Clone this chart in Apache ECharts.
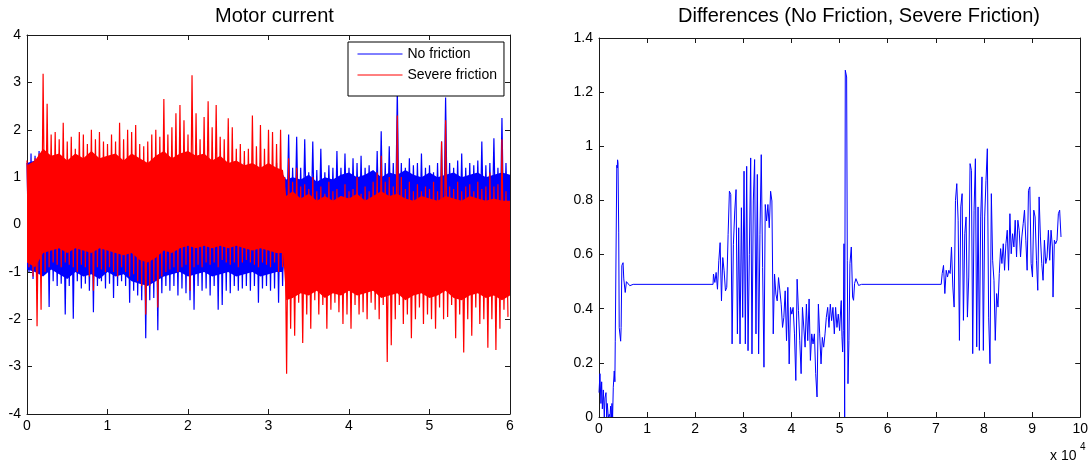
<!DOCTYPE html>
<html>
<head>
<meta charset="utf-8">
<script src="https://cdn.jsdelivr.net/npm/echarts@6/dist/echarts.min.js"></script>
<style>
html,body{margin:0;padding:0;background:#fff;}
#chart{width:1091px;height:461px;}
</style>
</head>
<body>
<div id="chart"></div>
<script>
// ---------- Left chart: Motor current ----------
// spike envelopes read per 0.05 time step
const motorStep = 0.05;
const severeHi = [1.35,1.2,1.4,1.5,3.18,2.55,1.9,1.95,1.8,2.15,
  1.75,1.85,1.6,1.95,1.9,1.7,2.0,1.8,1.95,1.75,
  1.7,1.9,1.75,2.15,1.8,2.0,1.95,2.1,1.7,1.65,
  1.75,1.9,2.0,1.85,2.65,1.9,2.05,2.35,2.52,2.2,
  1.9,3.15,2.35,1.8,2.27,2.6,2.05,2.52,1.85,1.8,
  2.24,2.05,1.6,1.7,1.55,1.6,2.3,1.65,2.1,1.6,
  2.0,1.95,1.7,2.0,1.0,1.4,0.9,1.2,0.8,0.85,
  0.75,1.0,0.7,0.8,0.65,0.9,0.7,0.75,0.6,0.85,
  0.7,0.75,1.0,0.65,0.8,0.7,0.9,1.1,1.45,0.9,
  1.0,0.8,2.3,1.0,0.75,0.9,0.7,0.85,0.7,0.8,
  0.75,0.9,0.7,1.75,2.2,0.8,0.75,0.9,0.7,0.8,
  0.85,0.7,0.9,0.75,0.8,1.1,0.8,0.85,1.8,0.7];
const severeLo = [-0.9,-1.1,-2.15,-1.8,-1.0,-0.9,-0.8,-0.85,-0.9,-0.8,
  -0.85,-0.9,-1.0,-0.85,-0.9,-1.1,-1.4,-0.9,-0.95,-1.0,
  -0.9,-1.0,-1.1,-0.9,-1.0,-1.1,-1.05,-1.2,-1.3,-1.9,
  -1.3,-1.2,-1.75,-1.1,-1.0,-0.95,-0.9,-1.0,-0.9,-0.85,
  -1.4,-0.9,-0.85,-0.9,-0.8,-0.85,-0.8,-0.9,-0.75,-0.8,
  -0.85,-0.8,-0.9,-0.8,-0.75,-0.8,-0.85,-0.9,-0.8,-0.85,
  -0.9,-0.8,-1.0,-0.9,-3.15,-2.2,-2.35,-1.65,-2.5,-1.9,
  -2.2,-1.6,-1.9,-1.7,-2.2,-1.8,-1.65,-1.85,-2.1,-1.9,
  -2.2,-1.7,-1.9,-1.85,-2.0,-1.65,-1.8,-2.0,-1.7,-2.9,
  -2.55,-2.0,-1.7,-2.1,-1.9,-2.4,-2.0,-1.75,-2.1,-1.9,
  -2.0,-2.2,-1.75,-2.0,-1.95,-1.7,-2.4,-1.9,-2.7,-2.0,
  -2.35,-1.75,-2.1,-2.0,-2.6,-2.0,-2.65,-2.2,-1.8,-1.95];
const noFrictionHi = [1.3,1.5,1.45,1.55,1.3,1.2,1.3,1.25,1.3,1.2,
  1.25,1.3,1.2,1.35,1.25,1.3,1.2,1.3,1.25,1.2,
  1.3,1.25,1.2,1.3,1.35,1.2,1.25,1.3,1.2,1.25,
  1.3,1.2,1.25,1.3,1.2,1.25,1.3,1.2,1.3,1.25,
  1.2,1.3,1.25,1.2,1.3,1.25,1.2,1.3,1.25,1.2,
  1.3,1.2,1.25,1.2,1.3,1.25,1.2,1.25,1.3,1.2,
  1.25,1.2,1.3,1.2,1.0,1.9,1.2,1.85,1.2,1.8,
  1.1,1.75,1.15,1.6,1.1,1.25,1.2,1.55,1.2,1.5,
  1.2,1.4,1.3,1.45,1.2,1.25,1.1,1.55,1.97,1.3,
  1.65,1.3,2.85,1.3,1.2,1.4,1.25,1.3,1.5,1.2,
  1.25,1.1,1.3,1.75,2.68,1.3,1.2,1.35,1.5,1.2,
  1.3,1.25,1.35,1.75,1.25,1.3,1.82,1.2,2.25,1.3];
const noFrictionLo = [-1.0,-1.15,-1.1,-1.0,-0.9,-1.74,-1.2,-1.3,-1.25,-1.9,
  -1.3,-1.99,-1.2,-1.35,-1.25,-1.4,-1.85,-1.3,-1.2,-1.35,
  -1.25,-1.55,-1.3,-1.2,-1.3,-1.65,-1.4,-1.5,-1.6,-2.4,
  -1.6,-1.55,-2.23,-1.45,-1.3,-1.4,-1.3,-1.5,-1.35,-1.45,
  -1.6,-1.8,-1.3,-1.4,-1.35,-1.5,-1.3,-1.8,-1.7,-1.4,
  -1.45,-1.3,-1.4,-1.35,-1.3,-1.4,-1.3,-1.65,-1.35,-1.3,
  -1.4,-1.35,-1.65,-1.3,-0.2,-0.4,-0.35,-0.45,-0.4,-0.3,
  -0.4,-0.45,-0.35,-0.4,-0.3,-0.4,-0.45,-0.35,-0.4,-0.3,
  -0.4,-0.35,-0.45,-0.4,-0.3,-0.4,-0.35,-0.45,-0.4,-0.3,
  -0.4,-0.35,-0.45,-0.4,-0.3,-0.4,-0.35,-0.45,-0.4,-0.3,
  -0.1,-0.35,-0.45,-0.4,-0.3,-0.4,-0.35,-0.45,-0.4,-0.3,
  -0.4,-0.35,-0.45,-0.4,-0.3,-0.4,-0.35,-0.45,-0.4,-0.3];
// dense (solid) core of each signal, read at 0.1 time points
const coreT = [0,0.1,0.2,0.3,0.4,0.5,0.6,0.7,0.8,0.9,1.0,1.1,1.2,1.3,1.4,1.5,1.6,1.7,1.8,1.9,
  2.0,2.1,2.2,2.3,2.4,2.5,2.6,2.7,2.8,2.9,3.0,3.1,3.18,
  3.22,3.3,3.4,3.5,3.6,3.7,3.8,3.9,4.0,4.1,4.2,4.3,4.4,4.5,4.6,4.7,4.8,4.9,
  5.0,5.1,5.2,5.3,5.4,5.5,5.6,5.7,5.8,5.9,6.0];
const severeCoreTop = [1.25,1.35,1.6,1.45,1.5,1.35,1.5,1.4,1.55,1.4,1.45,1.5,1.35,1.5,1.4,1.3,1.45,1.55,1.4,1.5,
  1.55,1.45,1.5,1.35,1.45,1.3,1.35,1.25,1.3,1.2,1.3,1.2,1.15,
  0.6,0.7,0.55,0.65,0.5,0.6,0.5,0.6,0.55,0.65,0.5,0.6,0.7,0.6,0.65,0.55,0.5,0.6,
  0.55,0.5,0.6,0.55,0.5,0.6,0.55,0.5,0.55,0.5,0.5];
const severeCoreBottom = [-0.8,-0.9,-0.6,-0.55,-0.5,-0.6,-0.5,-0.55,-0.6,-0.5,-0.55,-0.6,-0.65,-0.6,-0.75,-0.8,-0.7,-0.55,-0.6,-0.5,
  -0.45,-0.5,-0.45,-0.5,-0.45,-0.5,-0.45,-0.5,-0.55,-0.5,-0.55,-0.6,-0.6,
  -1.6,-1.55,-1.45,-1.5,-1.4,-1.55,-1.45,-1.5,-1.4,-1.5,-1.45,-1.4,-1.55,-1.5,-1.45,-1.6,-1.5,-1.45,
  -1.55,-1.5,-1.4,-1.55,-1.6,-1.5,-1.45,-1.55,-1.5,-1.6,-1.5];
const noFrictionCoreTop = [1.3,1.35,1.25,1.2,1.2,1.15,1.2,1.15,1.2,1.2,1.15,1.2,1.15,1.2,1.15,1.1,1.2,1.15,1.2,1.15,
  1.2,1.15,1.2,1.15,1.1,1.15,1.1,1.1,1.1,1.05,1.1,1.05,1.05,
  0.95,1.0,0.95,1.05,0.9,1.0,0.95,1.05,1.1,1.0,1.05,1.15,1.0,1.1,1.05,1.15,1.05,1.0,
  1.1,1.0,1.05,1.1,1.0,1.05,1.1,1.0,1.05,1.1,1.05];
const noFrictionCoreBottom = [-0.95,-1.0,-1.1,-0.95,-1.05,-1.15,-1.0,-1.1,-1.05,-1.15,-1.0,-1.1,-1.05,-1.2,-1.25,-1.3,-1.2,-1.1,-1.05,-1.0,
  -1.1,-1.05,-1.0,-1.1,-1.05,-1.0,-1.1,-1.05,-1.0,-1.1,-1.05,-1.0,-1.0,
  -0.5,-0.5,-0.5,-0.5,-0.5,-0.5,-0.5,-0.5,-0.5,-0.5,-0.5,-0.5,-0.5,-0.5,-0.5,-0.5,-0.5,-0.5,
  -0.5,-0.5,-0.5,-0.5,-0.5,-0.5,-0.5,-0.5,-0.5,-0.5,-0.5];

// ---------- Right chart: Differences (x in units of 10^4) ----------
const diffX = [0,0.02,0.04,0.055,0.07,0.09,0.11,0.124,0.145,0.16,0.172,0.193,0.214,0.23,0.241,0.26,0.269,0.283,0.297,0.317,0.33,0.338,0.366,
  0.37,0.38,0.386,0.395,0.41,0.42,0.45,0.46,0.475,0.5,0.515,0.545,0.57,0.6,0.64,0.68,0.71,2.37,
  2.379,2.407,2.434,2.462,2.490,2.517,2.545,2.572,2.600,2.628,2.655,2.683,2.710,2.738,2.766,2.793,2.821,2.848,2.876,2.903,
  2.931,2.959,2.986,3.014,3.041,3.069,3.097,3.124,3.152,3.179,3.207,3.234,3.262,3.290,3.317,3.345,3.372,3.400,3.428,3.455,
  3.483,3.510,3.538,3.566,3.593,3.621,3.648,3.676,3.703,3.731,3.759,3.786,3.814,3.841,3.869,3.897,3.924,3.952,3.979,4.007,
  4.034,4.062,4.090,4.117,4.145,4.172,4.200,4.228,4.255,4.283,4.310,4.338,4.366,4.393,4.421,4.448,4.476,4.503,4.531,4.559,
  4.586,4.614,4.641,4.669,4.697,4.724,4.752,4.779,4.807,4.834,4.862,4.890,4.917,4.945,4.972,5.000,5.028,
  5.035,5.049,5.063,5.077,5.091,5.105,5.118,5.146,5.160,5.174,5.194,5.215,5.243,5.270,5.290,5.311,5.339,5.366,5.394,5.42,5.456,7.111,
  7.132,7.159,7.187,7.215,7.242,7.270,7.297,7.325,7.353,7.380,7.408,7.435,7.463,7.490,7.518,7.546,7.573,7.601,7.628,7.656,
  7.684,7.711,7.739,7.766,7.794,7.822,7.849,7.877,7.904,7.932,7.959,7.987,8.015,8.042,8.070,8.097,8.125,8.153,8.180,8.208,
  8.235,8.263,8.291,8.318,8.346,8.373,8.401,8.428,8.456,8.484,8.511,8.539,8.566,8.594,8.622,8.649,8.677,8.704,8.732,8.760,
  8.787,8.815,8.842,8.870,8.897,8.925,8.953,8.980,9.008,9.035,9.063,9.091,9.118,9.146,9.173,9.201,9.228,9.256,9.284,9.311,
  9.339,9.366,9.394,9.422,9.435,9.463,9.490,9.518,9.546,9.573,9.601];
const diffY = [0.09,0.16,0.05,0.13,0.03,0.10,0.0,0.07,0.09,0.0,0.05,0.0,0.01,0.0,0.04,0.0,0.05,0.0,0.11,0.17,0.13,0.28,0.28,
  0.93,0.92,0.95,0.94,0.68,0.33,0.28,0.33,0.56,0.57,0.51,0.46,0.5,0.495,0.485,0.492,0.49,0.49,
  0.528,0.497,0.534,0.472,0.577,0.644,0.429,0.589,0.540,0.466,0.479,0.675,0.834,0.822,0.270,0.638,0.761,0.840,0.307,0.699,
  0.270,0.773,0.368,0.908,0.270,0.926,0.245,0.601,0.957,0.233,0.798,0.951,0.307,0.896,0.233,0.675,0.969,0.552,0.184,0.785,
  0.724,0.785,0.699,0.834,0.798,0.307,0.528,0.454,0.429,0.515,0.466,0.417,0.331,0.368,0.466,0.282,0.479,0.196,0.405,0.380,
  0.405,0.307,0.135,0.509,0.393,0.282,0.160,0.405,0.405,0.258,0.417,0.282,0.436,0.209,0.307,0.270,0.307,0.160,0.074,0.417,
  0.307,0.196,0.294,0.258,0.307,0.368,0.405,0.331,0.417,0.356,0.405,0.307,0.405,0.331,0.380,0.319,0.417,
  0.43,0.296,0.240,0.320,0.640,0.0,1.281,1.256,0.579,0.123,0.283,0.567,0.628,0.443,0.431,0.493,0.511,0.517,0.486,0.493,0.490,0.490,
  0.530,0.560,0.456,0.542,0.517,0.542,0.530,0.628,0.480,0.406,0.800,0.862,0.727,0.283,0.776,0.825,0.357,0.677,0.739,0.369,
  0.517,0.936,0.911,0.234,0.764,0.954,0.259,0.776,0.246,0.739,0.887,0.246,0.739,0.874,0.991,0.369,0.197,0.825,0.579,0.505,
  0.283,0.456,0.406,0.530,0.622,0.567,0.640,0.542,0.640,0.690,0.542,0.751,0.603,0.677,0.628,0.727,0.591,0.727,0.690,0.591,
  0.665,0.714,0.764,0.653,0.542,0.837,0.850,0.567,0.517,0.764,0.739,0.579,0.468,0.813,0.665,0.567,0.505,0.653,0.567,0.591,
  0.690,0.579,0.690,0.628,0.443,0.653,0.640,0.653,0.751,0.764,0.665];

function zigzag(hi, lo, step) {
  const out = [];
  for (let i = 0; i < hi.length; i++) {
    out.push([i * step, hi[i]]);
    out.push([i * step + step / 2, lo[i]]);
  }
  return out;
}
function pairs(xs, ys) { return xs.map((x, i) => [x, ys[i]]); }
function band(xs, top, bottom, color, z) {
  return {
    type: 'custom', xAxisIndex: 0, yAxisIndex: 0, silent: true, z: z, clip: true,
    data: [[xs[0], top[0]]],
    renderItem: function (params, api) {
      const pts = [];
      for (let i = 0; i < xs.length; i++) pts.push(api.coord([xs[i], top[i]]));
      for (let i = xs.length - 1; i >= 0; i--) pts.push(api.coord([xs[i], bottom[i]]));
      return { type: 'polygon', shape: { points: pts }, style: { fill: color, stroke: null } };
    }
  };
}

const FONT = '"Liberation Sans", Arial, Helvetica, sans-serif';
const AX = '#1a1a1a';
function xAx(grid, min, max, interval, pos, showLabel) {
  return {
    type: 'value', gridIndex: grid, min: min, max: max, interval: interval, position: pos,
    axisLine: { show: true, onZero: false, lineStyle: { color: AX, width: 1 } },
    axisTick: { show: true, inside: true, length: 5, lineStyle: { color: AX } },
    axisLabel: { show: showLabel, fontSize: 14, color: '#000', margin: 5, fontFamily: FONT },
    splitLine: { show: false }
  };
}
function yAx(grid, min, max, interval, pos, showLabel, fmt) {
  return {
    type: 'value', gridIndex: grid, min: min, max: max, interval: interval, position: pos,
    axisLine: { show: true, onZero: false, lineStyle: { color: AX, width: 1 } },
    axisTick: { show: true, inside: true, length: 5, lineStyle: { color: AX } },
    axisLabel: { show: showLabel, fontSize: 14, color: '#000', margin: 6, fontFamily: FONT, formatter: fmt },
    splitLine: { show: false }
  };
}

const chart = echarts.init(document.getElementById('chart'), null, { renderer: 'canvas' });
chart.setOption({
  animation: false,
  backgroundColor: '#fff',
  textStyle: { fontFamily: FONT },
  title: [
    { text: 'Motor current', left: 215, top: 6, padding: 0,
      textStyle: { fontSize: 20, fontWeight: 'normal', color: '#000', fontFamily: FONT } },
    { text: 'Differences (No Friction, Severe Friction)', left: 678, top: 6, padding: 0,
      textStyle: { fontSize: 20, fontWeight: 'normal', color: '#000', fontFamily: FONT } }
  ],
  legend: {
    data: ['No friction', 'Severe friction'],
    orient: 'vertical', left: 348, top: 42,
    itemWidth: 45, itemHeight: 14, itemGap: 7,
    padding: [5, 7, 14, 9],
    borderColor: '#000', borderWidth: 1, borderRadius: 0, backgroundColor: '#fff',
    itemStyle: { opacity: 0 },
    lineStyle: { width: 1 },
    textStyle: { fontSize: 14, color: '#000', fontFamily: FONT }
  },
  grid: [
    { left: 27, right: 581, top: 35, bottom: 47, containLabel: false },
    { left: 599, right: 8, top: 38, bottom: 44, containLabel: false }
  ],
  xAxis: [
    xAx(0, 0, 6, 1, 'bottom', true),
    xAx(0, 0, 6, 1, 'top', false),
    xAx(1, 0, 10, 1, 'bottom', true),
    xAx(1, 0, 10, 1, 'top', false)
  ],
  yAxis: [
    yAx(0, -4, 4, 1, 'left', true),
    yAx(0, -4, 4, 1, 'right', false),
    yAx(1, 0, 1.4, 0.2, 'left', true, v => String(+v.toFixed(1))),
    yAx(1, 0, 1.4, 0.2, 'right', false)
  ],
  graphic: [
    { type: 'text', left: 1050, top: 449, style: { text: 'x 10', fontSize: 14, fontFamily: FONT, fill: '#000' } },
    { type: 'text', left: 1080, top: 442, style: { text: '4', fontSize: 10, fontFamily: FONT, fill: '#000' } }
  ],
  series: [
    band(coreT, noFrictionCoreTop, noFrictionCoreBottom, '#0000ff', 1),
    { name: 'No friction', type: 'line', xAxisIndex: 0, yAxisIndex: 0, symbol: 'none',
      data: zigzag(noFrictionHi, noFrictionLo, motorStep),
      lineStyle: { color: '#0000ff', width: 1.2 }, itemStyle: { color: '#0000ff' }, z: 2 },
    band(coreT, severeCoreTop, severeCoreBottom, '#ff0000', 3),
    { name: 'Severe friction', type: 'line', xAxisIndex: 0, yAxisIndex: 0, symbol: 'none',
      data: zigzag(severeHi, severeLo, motorStep),
      lineStyle: { color: '#ff0000', width: 1.2 }, itemStyle: { color: '#ff0000' }, z: 4 },
    { name: 'Difference', type: 'line', xAxisIndex: 2, yAxisIndex: 2, symbol: 'none',
      data: pairs(diffX, diffY),
      lineStyle: { color: '#0000ff', width: 1 }, itemStyle: { color: '#0000ff' } }
  ]
});
</script>
</body>
</html>
